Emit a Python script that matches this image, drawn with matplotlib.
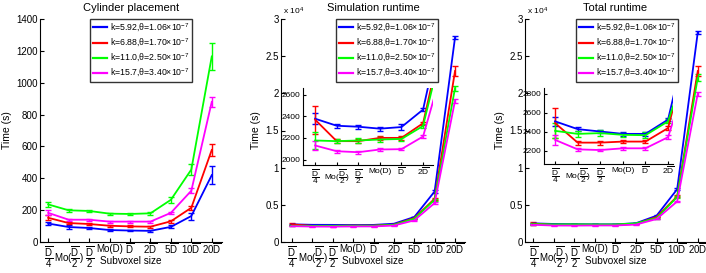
import matplotlib
matplotlib.use("Agg")
import matplotlib.pyplot as plt
import matplotlib.transforms as mtransforms
from matplotlib.ticker import FuncFormatter

# subvoxel sizes (x categories)
xlabels = [r'$\dfrac{\overline{D}}{4}$', r'Mo$(\dfrac{\overline{D}}{2})$', r'$\dfrac{\overline{D}}{2}$',
           'Mo(D)', r'$\overline{D}$', r'2$\overline{D}$', r'5$\overline{D}$',
           r'10$\overline{D}$', r'20$\overline{D}$']
series_labels = ['k=5.92,θ=1.06×10$^{-7}$',
                 'k=6.88,θ=1.70×10$^{-7}$',
                 'k=11.0,θ=2.50×10$^{-7}$',
                 'k=15.7,θ=3.40×10$^{-7}$']
colors = ['#0000ff', '#ff0000', '#00ff00', '#ff00ff']

# cylinder placement time (s)
place_k592 = [116, 94, 88, 75, 72, 70, 95, 163, 420]
place_k688 = [152, 119, 113, 102, 98, 96, 130, 215, 578]
place_k110 = [236, 199, 195, 178, 176, 180, 265, 455, 1165]
place_k157 = [183, 140, 140, 128, 128, 128, 183, 322, 880]
place_err_k592 = [8, 12, 6, 6, 6, 6, 10, 22, 55]
place_err_k688 = [15, 8, 6, 6, 6, 6, 8, 12, 38]
place_err_k110 = [18, 8, 8, 6, 6, 8, 20, 32, 85]
place_err_k157 = [15, 6, 6, 6, 6, 6, 8, 15, 30]

# simulation runtime (s)
sim_k592 = [2377, 2312, 2303, 2285, 2300, 2461, 3360, 6800, 27500]
sim_k688 = [2368, 2170, 2170, 2200, 2200, 2335, 3220, 5820, 23000]
sim_k110 = [2176, 2170, 2176, 2185, 2190, 2310, 3130, 5690, 20700]
sim_k157 = [2130, 2077, 2068, 2093, 2096, 2213, 2910, 5240, 19000]
sim_err_k592 = [50, 20, 20, 20, 25, 15, 60, 150, 250]
sim_err_k688 = [130, 20, 20, 15, 15, 15, 60, 120, 700]
sim_err_k110 = [80, 20, 25, 20, 20, 20, 60, 120, 350]
sim_err_k157 = [40, 12, 15, 12, 12, 12, 60, 120, 300]

# total runtime (s)
tot_k592 = [2509, 2427, 2402, 2377, 2377, 2527, 3540, 7100, 28200]
tot_k688 = [2491, 2285, 2285, 2296, 2296, 2438, 3360, 6140, 23000]
tot_k110 = [2409, 2377, 2385, 2367, 2363, 2509, 3220, 6050, 22100]
tot_k157 = [2314, 2214, 2207, 2225, 2225, 2342, 3090, 5460, 19950]
tot_err_k592 = [50, 20, 20, 20, 25, 15, 60, 150, 250]
tot_err_k688 = [160, 20, 20, 15, 15, 25, 60, 120, 700]
tot_err_k110 = [80, 30, 30, 20, 30, 20, 60, 120, 450]
tot_err_k157 = [50, 15, 15, 15, 15, 20, 60, 120, 250]

x = list(range(1, 10))
W, H = 706, 273
plt.rcParams['font.family'] = 'Liberation Sans'
plt.rcParams['mathtext.fontset'] = 'custom'
plt.rcParams['mathtext.rm'] = 'Liberation Sans'
plt.rcParams['mathtext.it'] = 'Liberation Sans'
plt.rcParams['mathtext.bf'] = 'Liberation Sans:bold'
fig = plt.figure(figsize=(W / 100, H / 100), dpi=100)
lift = mtransforms.ScaledTranslation(0, 3 / 100, fig.dpi_scale_trans)


def box(l, r, t, b):
    return [l / W, 1 - b / H, (r - l) / W, (b - t) / H]


def draw(ax, ys, errs, lw=1.3, labels=True):
    for i, (y, e) in enumerate(zip(ys, errs)):
        ax.errorbar(x, y, yerr=e, color=colors[i], lw=lw, capsize=2, elinewidth=1.0, capthick=1.0)
        if labels:
            ax.plot([], [], color=colors[i], lw=1.6, label=series_labels[i])


def lift_bar_labels(ax):
    # single-line overline labels sit a bit low, nudge them up
    for i, lab in enumerate(ax.get_xticklabels()):
        if i >= 4:
            lab.set_transform(lab.get_transform() + lift)


def style_main(ax, xlim):
    ax.set_xlim(*xlim)
    ax.set_xticks(x)
    ax.set_xticklabels(xlabels, fontsize=7, va='top')
    ax.spines['top'].set_visible(False)
    ax.spines['right'].set_visible(False)
    ax.tick_params(direction='in', labelsize=7, length=3, pad=1.5)
    lift_bar_labels(ax)
    ax.set_xlabel('Subvoxel size', fontsize=7.2)
    ax.xaxis.set_label_coords(0.5, -13.5 / 223)
    ax.set_ylabel('Time (s)', fontsize=7.5, labelpad=3)


def legend(ax, left):
    ax.legend(loc='upper left', bbox_to_anchor=(left / W, 1 - 19 / H), bbox_transform=fig.transFigure,
              fontsize=6.3, frameon=True, fancybox=False, edgecolor='black', handlelength=1.6,
              borderpad=0.3, labelspacing=0.35, handletextpad=0.4, borderaxespad=0)


def style_inset(ax, xlim, ylim, yticks):
    ax.set_xlim(*xlim)
    ax.set_ylim(*ylim)
    ax.set_yticks(yticks)
    ax.set_xticks(x[:6])
    ax.set_xticklabels(xlabels[:6], fontsize=6, va='top')
    ax.spines['top'].set_visible(False)
    ax.spines['right'].set_visible(False)
    ax.tick_params(direction='in', labelsize=6, length=2, pad=2)
    lift_bar_labels(ax)
    ax.patch.set_alpha(0)


sci = FuncFormatter(lambda v, p: f'{v / 1e4:g}')

# panel 1
ax1 = fig.add_axes(box(40, 222, 19, 242))
draw(ax1, [place_k592, place_k688, place_k110, place_k157],
     [place_err_k592, place_err_k688, place_err_k110, place_err_k157])
style_main(ax1, (0.6, 9.5))
ax1.set_ylim(0, 1400)
ax1.set_yticks(range(0, 1401, 200))
ax1.set_title('Cylinder placement', fontsize=8, pad=6)
legend(ax1, 90)

# panel 2
ax2 = fig.add_axes(box(281, 465, 19, 242))
draw(ax2, [sim_k592, sim_k688, sim_k110, sim_k157],
     [sim_err_k592, sim_err_k688, sim_err_k110, sim_err_k157])
style_main(ax2, (0.46, 9.49))
ax2.set_ylim(0, 30000)
ax2.set_yticks(range(0, 30001, 5000))
ax2.yaxis.set_major_formatter(sci)
ax2.text(0.0, 1.01, r' x 10$^4$', transform=ax2.transAxes, fontsize=6, va='bottom', ha='left')
ax2.set_title('Simulation runtime', fontsize=8, pad=6)
legend(ax2, 336)

in2 = fig.add_axes(box(303, 433, 88, 165))
draw(in2, [sim_k592, sim_k688, sim_k110, sim_k157],
     [sim_err_k592, sim_err_k688, sim_err_k110, sim_err_k157], labels=False)
style_inset(in2, (0.44, 6.46), (1950, 2660), [2000, 2200, 2400, 2600])

# panel 3
ax3 = fig.add_axes(box(525, 706, 19, 242))
draw(ax3, [tot_k592, tot_k688, tot_k110, tot_k157],
     [tot_err_k592, tot_err_k688, tot_err_k110, tot_err_k157])
style_main(ax3, (0.61, 9.4))
ax3.set_ylim(0, 30000)
ax3.set_yticks(range(0, 30001, 5000))
ax3.yaxis.set_major_formatter(sci)
ax3.text(0.0, 1.01, r' x 10$^4$', transform=ax3.transAxes, fontsize=6, va='bottom', ha='left')
ax3.set_title('Total runtime', fontsize=8, pad=6)
legend(ax3, 576)

in3 = fig.add_axes(box(544, 673, 88, 164))
draw(in3, [tot_k592, tot_k688, tot_k110, tot_k157],
     [tot_err_k592, tot_err_k688, tot_err_k110, tot_err_k157], labels=False)
style_inset(in3, (0.51, 6.22), (2060, 2860), [2200, 2400, 2600, 2800])

fig.savefig('out.png', dpi=100)
